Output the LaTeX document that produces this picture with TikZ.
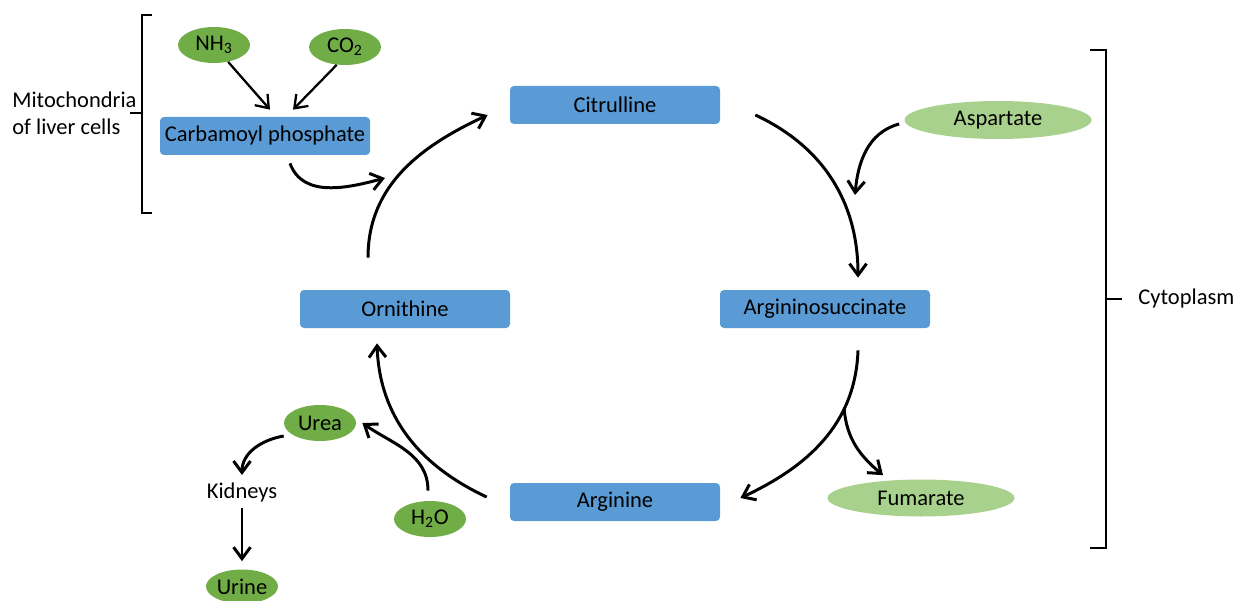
\documentclass[tikz,border=0pt]{standalone}
\usepackage{fontspec}
\setmainfont{Carlito}
\usepackage{xcolor}
\usepackage{tikz}
\usetikzlibrary{shapes,positioning,arrows.meta}
\definecolor{boxblue}{HTML}{5B9BD5}
\definecolor{leafgreen}{HTML}{70AD47}
\definecolor{palegreen}{HTML}{A9D18E}
\tikzset{box/.style={rectangle,fill=boxblue,rounded corners=0.08cm,minimum width=4.2cm,minimum height=0.76cm,inner sep=0pt},
ell/.style={ellipse,fill=leafgreen,minimum width=1.44cm,minimum height=0.72cm,inner sep=0pt},
pale/.style={ellipse,fill=palegreen,minimum width=3.74cm,minimum height=0.76cm,inner sep=0pt},
flow/.style={->,line width=1.7pt},
feed/.style={->,line width=1.3pt}}

\begin{document}
\begin{tikzpicture}[>={Straight Barb[length=2.3mm,width=3.4mm]},font=\fontsize{12.8}{15.3}\selectfont]
    \useasboundingbox (0,0) rectangle (24.72,12);

    \node[box] (carb) at (5.3,9.28) {Carbamoyl phosphate};
    \node[box] (cit) at (12.3,9.9) {Citrulline};
    \node[box] (orn) at (8.1,5.82) {Ornithine};
    \node[box] (argsuc) at (16.5,5.82) {Argininosuccinate};
    \node[box] (arg) at (12.3,1.96) {Arginine};
    \node[ell] (nh) at (4.28,11.1) {NH\textsubscript{3}};
    \node[ell] (co) at (6.9,11.06) {CO\textsubscript{2}};
    \node[pale] (asp) at (19.96,9.6) {Aspartate};
    \node[pale,minimum height=0.74cm] (fum) at (18.42,2.04) {Fumarate};
    \node[ell] (urea) at (6.4,3.54) {Urea};
    \node[ell] (water) at (8.6,1.62) {H\textsubscript{2}O};
    \node[ell,minimum height=0.68cm] (urine) at (4.84,0.27) {Urine};
    \node[inner sep=0pt] (kid) at (4.84,2.16) {Kidneys};
    \node[anchor=west,align=left,inner sep=0pt] (mito) at (0.24,9.73) {Mitochondria\\of liver cells};
    \node[anchor=west,inner sep=0pt] (cyto) at (22.76,6.02) {Cytoplasm};
    \coordinate (join) at (7.7,8.44);
    \coordinate (aspjoin) at (17.1,8.1);

    % brackets
    \draw [line width=1.1pt] (3.04,11.7) -- (2.84,11.7) -- (2.84,7.74) -- (3.04,7.74);
    \draw [line width=1.1pt] (2.6,9.74) -- (2.84,9.74);
    \draw [line width=1.1pt] (21.8,11) -- (22.12,11) -- (22.12,1.04) -- (21.8,1.04);
    \draw [line width=1.1pt] (22.12,6.02) -- (22.44,6.02);

    \draw [feed] (nh.-50) to [] ([xshift=0.1cm,yshift=0.14cm]carb.north);
    \draw [feed] (co.-115) to [] ([xshift=0.56cm,yshift=0.14cm]carb.north);
    \draw [flow] ([xshift=0.5cm,yshift=-0.16cm]carb.south) to [out=-70,in=195] (join);
    \draw [flow] ([xshift=-0.74cm,yshift=0.64cm]orn.north) to [out=90,in=205] ([xshift=-0.44cm,yshift=-0.2cm]cit.west);
    \draw [flow] ([xshift=0.7cm,yshift=-0.2cm]cit.east) to [out=-25,in=90] ([xshift=0.66cm,yshift=0.24cm]argsuc.north);
    \draw [flow] ([xshift=-0.1cm,yshift=-0.08cm]asp.west) to [out=195,in=85] (aspjoin);
    \draw [flow] ([xshift=0.66cm,yshift=-0.44cm]argsuc.south) to [out=-92,in=25]node[coordinate,pos=0.3](split){} ([xshift=0.4cm,yshift=0.08cm]arg.east);
    \draw [flow] (split) to [out=-85,in=140] ([xshift=-0.76cm,yshift=0.08cm]fum.north);
    \draw [flow] ([xshift=-0.46cm,yshift=0.1cm]arg.west) to [out=155,in=-88] ([xshift=-0.56cm,yshift=-0.3cm]orn.south);
    \draw [flow] ([xshift=-0.04cm,yshift=0.2cm]water.north) to [out=90,in=-35] ([xshift=0.12cm]urea.east);
    \draw [flow] ([yshift=-0.26cm]urea.west) to [out=190,in=90] ([yshift=0.34cm]kid.center);
    \draw [flow] ([yshift=-0.32cm]kid.center) to [] ([yshift=0.16cm]urine.north);
\end{tikzpicture}
\end{document}
